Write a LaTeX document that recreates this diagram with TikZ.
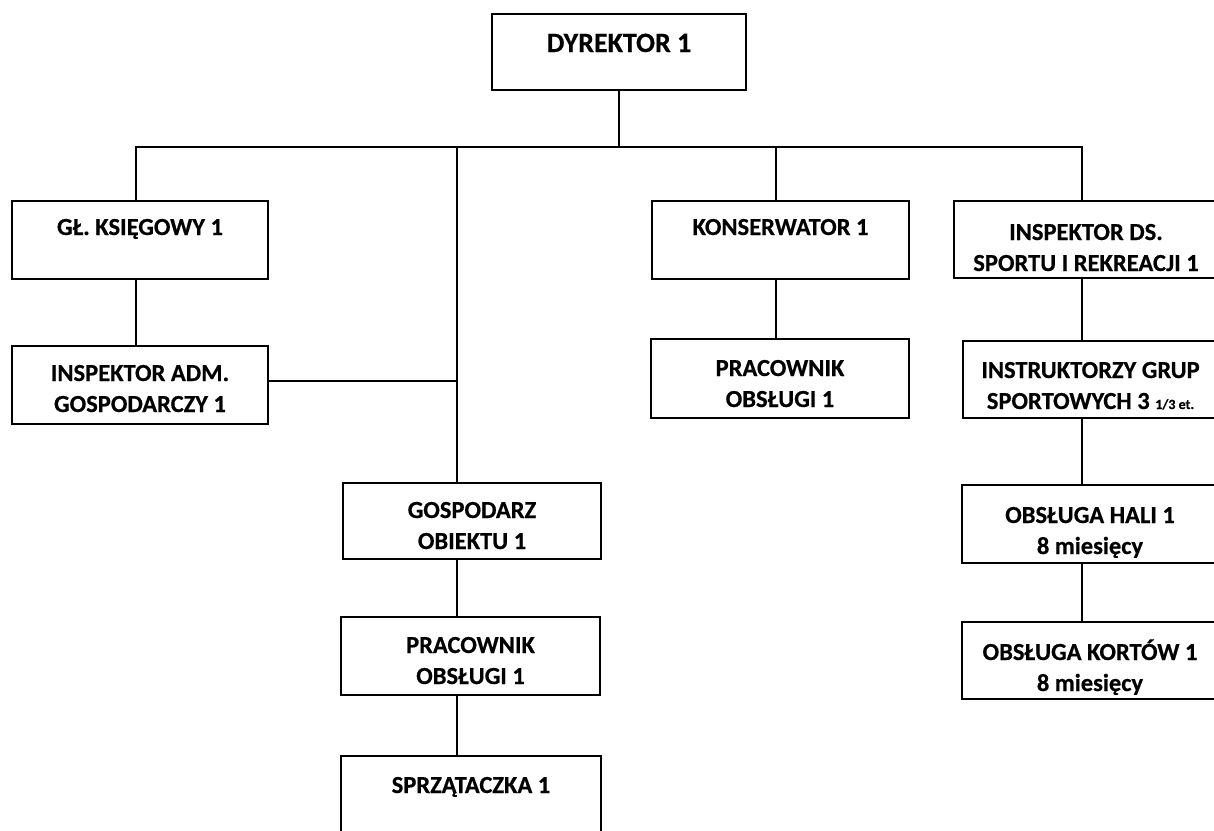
\documentclass[tikz,border=0pt]{standalone}
\usepackage{fontspec}
\setmainfont{Carlito}[BoldFeatures={FakeBold=0.5}]
\newcommand{\boxtext}[4]{\parbox[c][#1][t]{#2}{\centering\rule{0pt}{#3}#4}}
\tikzset{
  orgbox/.style={draw=black, line width=1.8pt, fill=white, inner sep=0pt, outer sep=0pt,
    font=\fontsize{24.5}{31}\selectfont\bfseries},
  topbox/.style={orgbox, font=\fontsize{28}{34}\selectfont\bfseries},
  link/.style={draw=black, line width=1.8pt}
}
\begin{document}
\begin{tikzpicture}[x=1pt,y=-1pt]
\clip (0,0) rectangle (1214,830);
\fill[white] (0,0) rectangle (1214,830);
% boxes
\node[topbox] (dyr) at (619,52) {\boxtext{76pt}{254pt}{38pt}{DYREKTOR 1}};
\node[orgbox] (gl) at (140,240) {\boxtext{78pt}{256pt}{34pt}{GŁ. KSIĘGOWY 1}};
\node[orgbox] (adm) at (140,385) {\boxtext{78pt}{256pt}{35pt}{INSPEKTOR ADM.\\GOSPODARCZY 1}};
\node[orgbox] (gos) at (472,521) {\boxtext{76pt}{258pt}{35pt}{GOSPODARZ\\OBIEKTU 1}};
\node[orgbox] (pr1) at (470.5,656) {\boxtext{78pt}{259pt}{36pt}{PRACOWNIK\\OBSŁUGI 1}};
\node[orgbox] (spr) at (471,797) {\boxtext{82pt}{260pt}{37pt}{SPRZĄTACZKA 1}};
\node[orgbox] (kon) at (780.5,240) {\boxtext{78pt}{257pt}{34pt}{KONSERWATOR 1}};
\node[orgbox] (pr2) at (780,378.5) {\boxtext{79pt}{258pt}{37pt}{PRACOWNIK\\OBSŁUGI 1}};
\node[orgbox] (ids) at (1086,239.5) {\boxtext{77pt}{264pt}{39pt}{INSPEKTOR DS.\\SPORTU I REKREACJI 1}};
\node[orgbox] (ins) at (1090.5,379.5) {\boxtext{77pt}{255pt}{37pt}{INSTRUKTORZY GRUP\\SPORTOWYCH 3 {\fontsize{14}{31}\selectfont 1/3 et.}}};
\node[orgbox] (hal) at (1090,524) {\boxtext{78pt}{256pt}{38pt}{OBSŁUGA HALI 1\\8 miesięcy}};
\node[orgbox] (kor) at (1090,660.5) {\boxtext{77pt}{256pt}{38pt}{OBSŁUGA KORTÓW 1\\8 miesięcy}};
% bus coordinates
\coordinate (bA) at (136,147);
\coordinate (bG) at (457,147);
\coordinate (bD) at (619,147);
\coordinate (bK) at (776,147);
\coordinate (bI) at (1082,147);
% connectors
\draw[link] (dyr.south) -- (bD);
\draw[link] (bA |- gl.north) -- (bA) -- (bI) -- (bI |- ids.north);
\draw[link] (bA |- gl.south) -- (bA |- adm.north);
\draw[link] ([yshift=4pt]adm.east) -- ([yshift=4pt]adm.east -| bG);
\draw[link] (bG) -- (bG |- gos.north);
\draw[link] (bG |- gos.south) -- (bG |- pr1.north);
\draw[link] (bG |- pr1.south) -- (bG |- spr.north);
\draw[link] (bK) -- (bK |- kon.north);
\draw[link] (bK |- kon.south) -- (bK |- pr2.north);
\draw[link] (bI |- ids.south) -- (bI |- ins.north);
\draw[link] (bI |- ins.south) -- (bI |- hal.north);
\draw[link] (bI |- hal.south) -- (bI |- kor.north);
\end{tikzpicture}
\end{document}
